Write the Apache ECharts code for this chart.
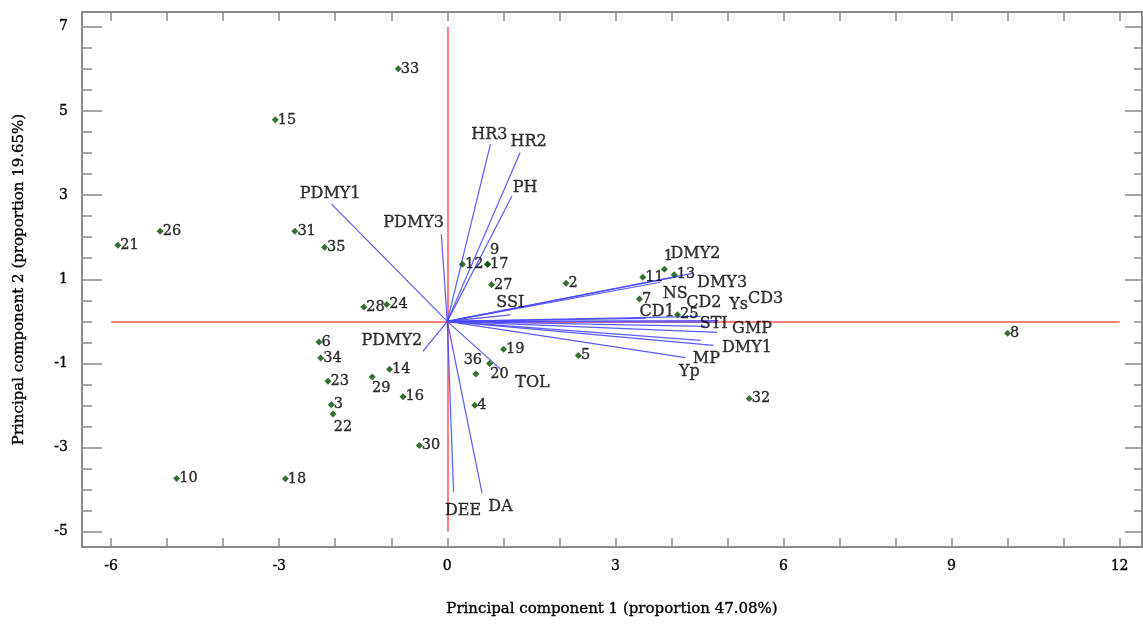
<!DOCTYPE html>
<html><head><meta charset="utf-8">
<script src="https://cdn.jsdelivr.net/npm/echarts@6/dist/echarts.min.js"></script>
<style>html,body{margin:0;padding:0;background:#fff}#c{width:1143px;height:624px}</style>
</head><body><div id="c"></div>
<script>
// ---- data ----
const pointIds = ['1','2','3','4','5','6','7','8','9','10','11','12','13','14','15','16','17','18','19','20','21','22','23','24','25','26','27','28','29','30','31','32','33','34','35','36'];
const pointX = [3.875, 2.12, -2.07, 0.49, 2.34, -2.29, 3.43, 10.0, 0.72, -4.83, 3.49, 0.27, 4.05, -1.03, -3.07, -0.79, 0.72, -2.89, 1.005, 0.755, -5.88, -2.04, -2.13, -1.08, 4.11, -5.125, 0.79, -1.49, -1.34, -0.5, -2.72, 5.39, -0.875, -2.26, -2.19, 0.51];
const pointY = [1.24, 0.905, -1.98, -1.99, -0.81, -0.49, 0.53, -0.28, 1.36, -3.73, 1.05, 1.36, 1.11, -1.14, 4.79, -1.79, 1.36, -3.74, -0.66, -1.0, 1.81, -2.20, -1.42, 0.40, 0.16, 2.14, 0.87, 0.34, -1.32, -2.95, 2.14, -1.83, 6.0, -0.87, 1.76, -1.25];

const varNames = ['HR3','HR2','PH','PDMY3','PDMY1','PDMY2','SSI','TOL','DEE','DA','DMY2','DMY3','NS','CD1','CD2','CD3','Ys','STI','GMP','DMY1','MP','Yp'];
const arrowX = [0.77, 1.30, 1.155, -0.107, -2.07, -0.435, 1.125, 0.98, 0.113, 0.62, 4.375, 4.125, 3.80, 3.54, 4.52, 4.84, 4.80, 4.61, 4.82, 4.75, 4.52, 4.25];
const arrowY = [4.21, 4.01, 2.98, 2.07, 2.79, -0.71, 0.155, -1.17, -4.06, -4.08, 1.14, 1.07, 0.93, 0.07, 0.12, 0.02, -0.02, -0.12, -0.26, -0.57, -0.45, -0.86];
const varLabelX = [0.75, 1.45, 1.39, -0.60, -2.09, -0.99, 1.125, 1.52, 0.28, 0.95, 4.43, 4.905, 4.07, 3.745, 4.58, 5.68, 5.20, 4.755, 5.44, 5.35, 4.625, 4.32];
const varLabelY = [4.43, 4.26, 3.17, 2.34, 3.02, -0.46, 0.45, -1.45, -4.5, -4.40, 1.60, 0.92, 0.66, 0.22, 0.445, 0.54, 0.40, -0.055, -0.17, -0.63, -0.90, -1.21];

const xTicks = [-6,-5,-4,-3,-2,-1,0,1,2,3,4,5,6,7,8,9,10,11,12];
const xTickLabels = [-6,-3,0,3,6,9,12];
const yMajorTicks = [-5,-3,-1,1,3,5,7];
const yMinorTicks = [-4.5,-4,-3.5,-2.5,-2,-1.5,-0.5,0,0.5,1.5,2,2.5,3.5,4,4.5,5.5,6,6.5];
const xTitle = 'Principal component 1 (proportion 47.08%)';
const yTitle = 'Principal component 2 (proportion 19.65%)';

// ---- layout / style ----
const FONT = 'DejaVu Serif';
const X_MIN = -6.52, X_MAX = 12.4, Y_MIN = -5.36, Y_MAX = 7.35;
const labelTweaks = { '22': [10, 13], '29': [9, 11], '36': [-3, -14], '20': [10, 11], '9': [7, -14], '1': [4, -13] };
const AX = '#8a8a8a';
const TXT = { color: '#000', fontFamily: FONT, textBorderColor: '#000', textBorderWidth: 0.35 };

const chart = echarts.init(document.getElementById('c'), null, { renderer: 'canvas' });

function xAx(pos, showLabel) {
  return {
    type: 'value', position: pos, min: X_MIN, max: X_MAX,
    axisLine: { show: true, onZero: false, lineStyle: { color: AX, width: 2 } },
    axisTick: { show: true, inside: true, length: 9, customValues: xTicks, lineStyle: { color: AX, width: 1.5 } },
    axisLabel: Object.assign({ show: showLabel, customValues: xTickLabels, margin: 12, fontSize: 14 }, TXT),
    splitLine: { show: false },
    name: showLabel ? xTitle : '', nameLocation: 'middle', nameGap: 55,
    nameTextStyle: Object.assign({ fontSize: 15 }, TXT)
  };
}
function yAx(pos, ticks, len, showLine, showLabel) {
  return {
    type: 'value', position: pos, min: Y_MIN, max: Y_MAX,
    axisLine: { show: showLine, onZero: false, lineStyle: { color: AX, width: 2 } },
    axisTick: { show: true, inside: true, length: len, customValues: ticks, lineStyle: { color: AX, width: 1.5 } },
    axisLabel: Object.assign({ show: showLabel, customValues: yMajorTicks, margin: 14, fontSize: 14 }, TXT),
    splitLine: { show: false },
    name: showLabel ? yTitle : '', nameLocation: 'middle', nameGap: 55,
    nameTextStyle: Object.assign({ fontSize: 15 }, TXT)
  };
}

const pointData = pointIds.map((id, i) => {
  const d = { name: id, value: [pointX[i], pointY[i]] };
  if (labelTweaks[id]) d.label = { position: 'inside', offset: labelTweaks[id] };
  return d;
});

const option = {
  animation: false,
  backgroundColor: '#fff',
  grid: { left: 82, right: 1, top: 12, bottom: 77, containLabel: false },
  xAxis: [xAx('bottom', true), xAx('top', false)],
  yAxis: [
    yAx('left', yMajorTicks, 20, true, true),
    yAx('left', yMinorTicks, 10, false, false),
    yAx('right', yMajorTicks, 17, true, false),
    yAx('right', yMinorTicks, 8, false, false)
  ],
  series: [
    {
      type: 'lines', coordinateSystem: 'cartesian2d', xAxisIndex: 0, yAxisIndex: 0, z: 1, silent: true,
      lineStyle: { color: '#ff8080', width: 2, opacity: 1 },
      data: [{ coords: [[xTickLabels[0], 0], [xTickLabels[xTickLabels.length - 1], 0]] },
             { coords: [[0, yMajorTicks[0]], [0, yMajorTicks[yMajorTicks.length - 1]]] }]
    },
    {
      type: 'lines', coordinateSystem: 'cartesian2d', xAxisIndex: 0, yAxisIndex: 0, z: 2, silent: true,
      lineStyle: { color: '#4848ff', width: 1.2, opacity: 0.9 },
      data: varNames.map((n, i) => ({ name: n, coords: [[0, 0], [arrowX[i], arrowY[i]]] }))
    },
    {
      type: 'scatter', xAxisIndex: 0, yAxisIndex: 0, z: 3, silent: true,
      symbol: 'circle', symbolSize: 1, itemStyle: { color: 'rgba(0,0,0,0)' },
      label: Object.assign({ show: true, position: 'inside', formatter: p => p.name, fontSize: 16 }, TXT),
      data: varNames.map((n, i) => ({ name: n, value: [varLabelX[i], varLabelY[i]] }))
    },
    {
      type: 'scatter', xAxisIndex: 0, yAxisIndex: 0, z: 4, silent: true,
      symbol: 'diamond', symbolSize: 7, itemStyle: { color: '#004d00' },
      label: Object.assign({ show: true, position: 'right', distance: -1, formatter: p => p.name, fontSize: 14.5 }, TXT),
      data: pointData
    }
  ]
};
chart.setOption(option);
</script>
</body></html>
